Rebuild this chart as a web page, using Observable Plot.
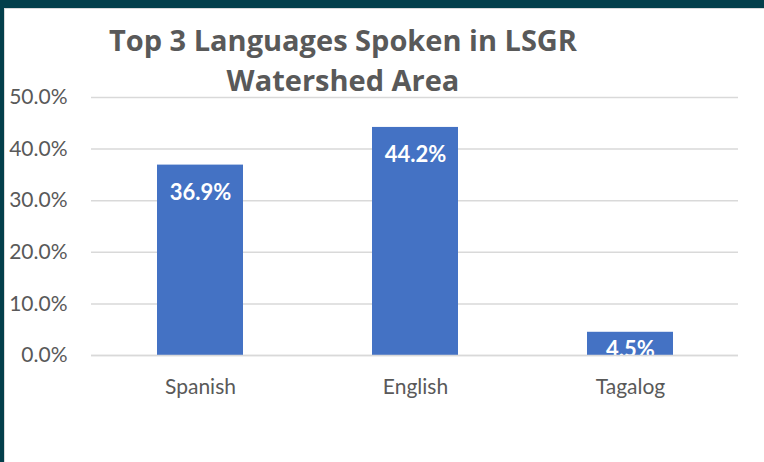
<!DOCTYPE html>
<html>
<head>
<meta charset="utf-8">
<script src="https://cdn.jsdelivr.net/npm/d3@7"></script>
<script src="https://cdn.jsdelivr.net/npm/@observablehq/plot@0.6"></script>
<style>
  html, body { margin: 0; padding: 0; background: #fff; }
  #frame { position: relative; width: 764px; height: 462px; background: #033f4b; overflow: hidden; }
  #inner { position: absolute; left: 4px; top: 8px; right: 0; bottom: 0; background: #fff;
           border-top: 1px solid #d9d9d9; border-left: 1px solid #d9d9d9; }
  #chart { position: absolute; left: 0; top: 0; }
  #title { position: absolute; left: 83px; top: 20px; width: 520px; text-align: center;
           font-family: "Open Sans", Lato, sans-serif; font-weight: bold; font-size: 29px;
           line-height: 40px; color: #595959; }
</style>
</head>
<body>
<div id="frame">
  <div id="inner"></div>
  <div id="chart"></div>
  <div id="title">Top 3 Languages Spoken in LSGR<br>Watershed Area</div>
</div>
<script>
const languages = ["Spanish", "English", "Tagalog"];
const shares = [36.9, 44.2, 4.5];
const yTicks = [0, 10, 20, 30, 40, 50];

const data = languages.map((lang, i) => ({ lang, value: shares[i] }));
const fmt = v => v.toFixed(1) + "%";

const chart = Plot.plot({
  width: 764,
  height: 462,
  marginLeft: 91,
  marginRight: 26,
  marginTop: 97,
  marginBottom: 107,
  style: { fontFamily: "Lato, 'Open Sans', sans-serif", background: "transparent", overflow: "visible" },
  x: { domain: languages, paddingInner: 0.6, paddingOuter: 0.3, label: null },
  y: { domain: [0, 50], label: null },
  marks: [
    Plot.gridY(yTicks, { stroke: "#d9d9d9", strokeOpacity: 1, strokeWidth: 1.5 }),
    Plot.barY(data, { x: "lang", y: "value", fill: "#4472c4" }),
    Plot.text(data.filter(d => d.value > 10), {
      x: "lang", y: "value", text: d => fmt(d.value), dy: 28,
      fill: "white", fontWeight: "bold", fontSize: 22, lineAnchor: "middle"
    }),
    Plot.text(data.filter(d => d.value <= 10), {
      x: "lang", y: "value", text: d => fmt(d.value), dy: 18,
      fill: "white", fontWeight: "bold", fontSize: 22, lineAnchor: "middle"
    }),
    Plot.ruleY([0], { stroke: "#d9d9d9", strokeWidth: 1.5 }),
    Plot.axisY(yTicks, {
      tickSize: 0, tickPadding: 24, tickFormat: v => fmt(v),
      fontSize: 21, fill: "#595959", label: null
    }),
    Plot.axisX({
      tickSize: 0, tickPadding: 24, fontSize: 21, fill: "#595959", label: null
    })
  ]
});
document.getElementById("chart").appendChild(chart);
</script>
</body>
</html>
